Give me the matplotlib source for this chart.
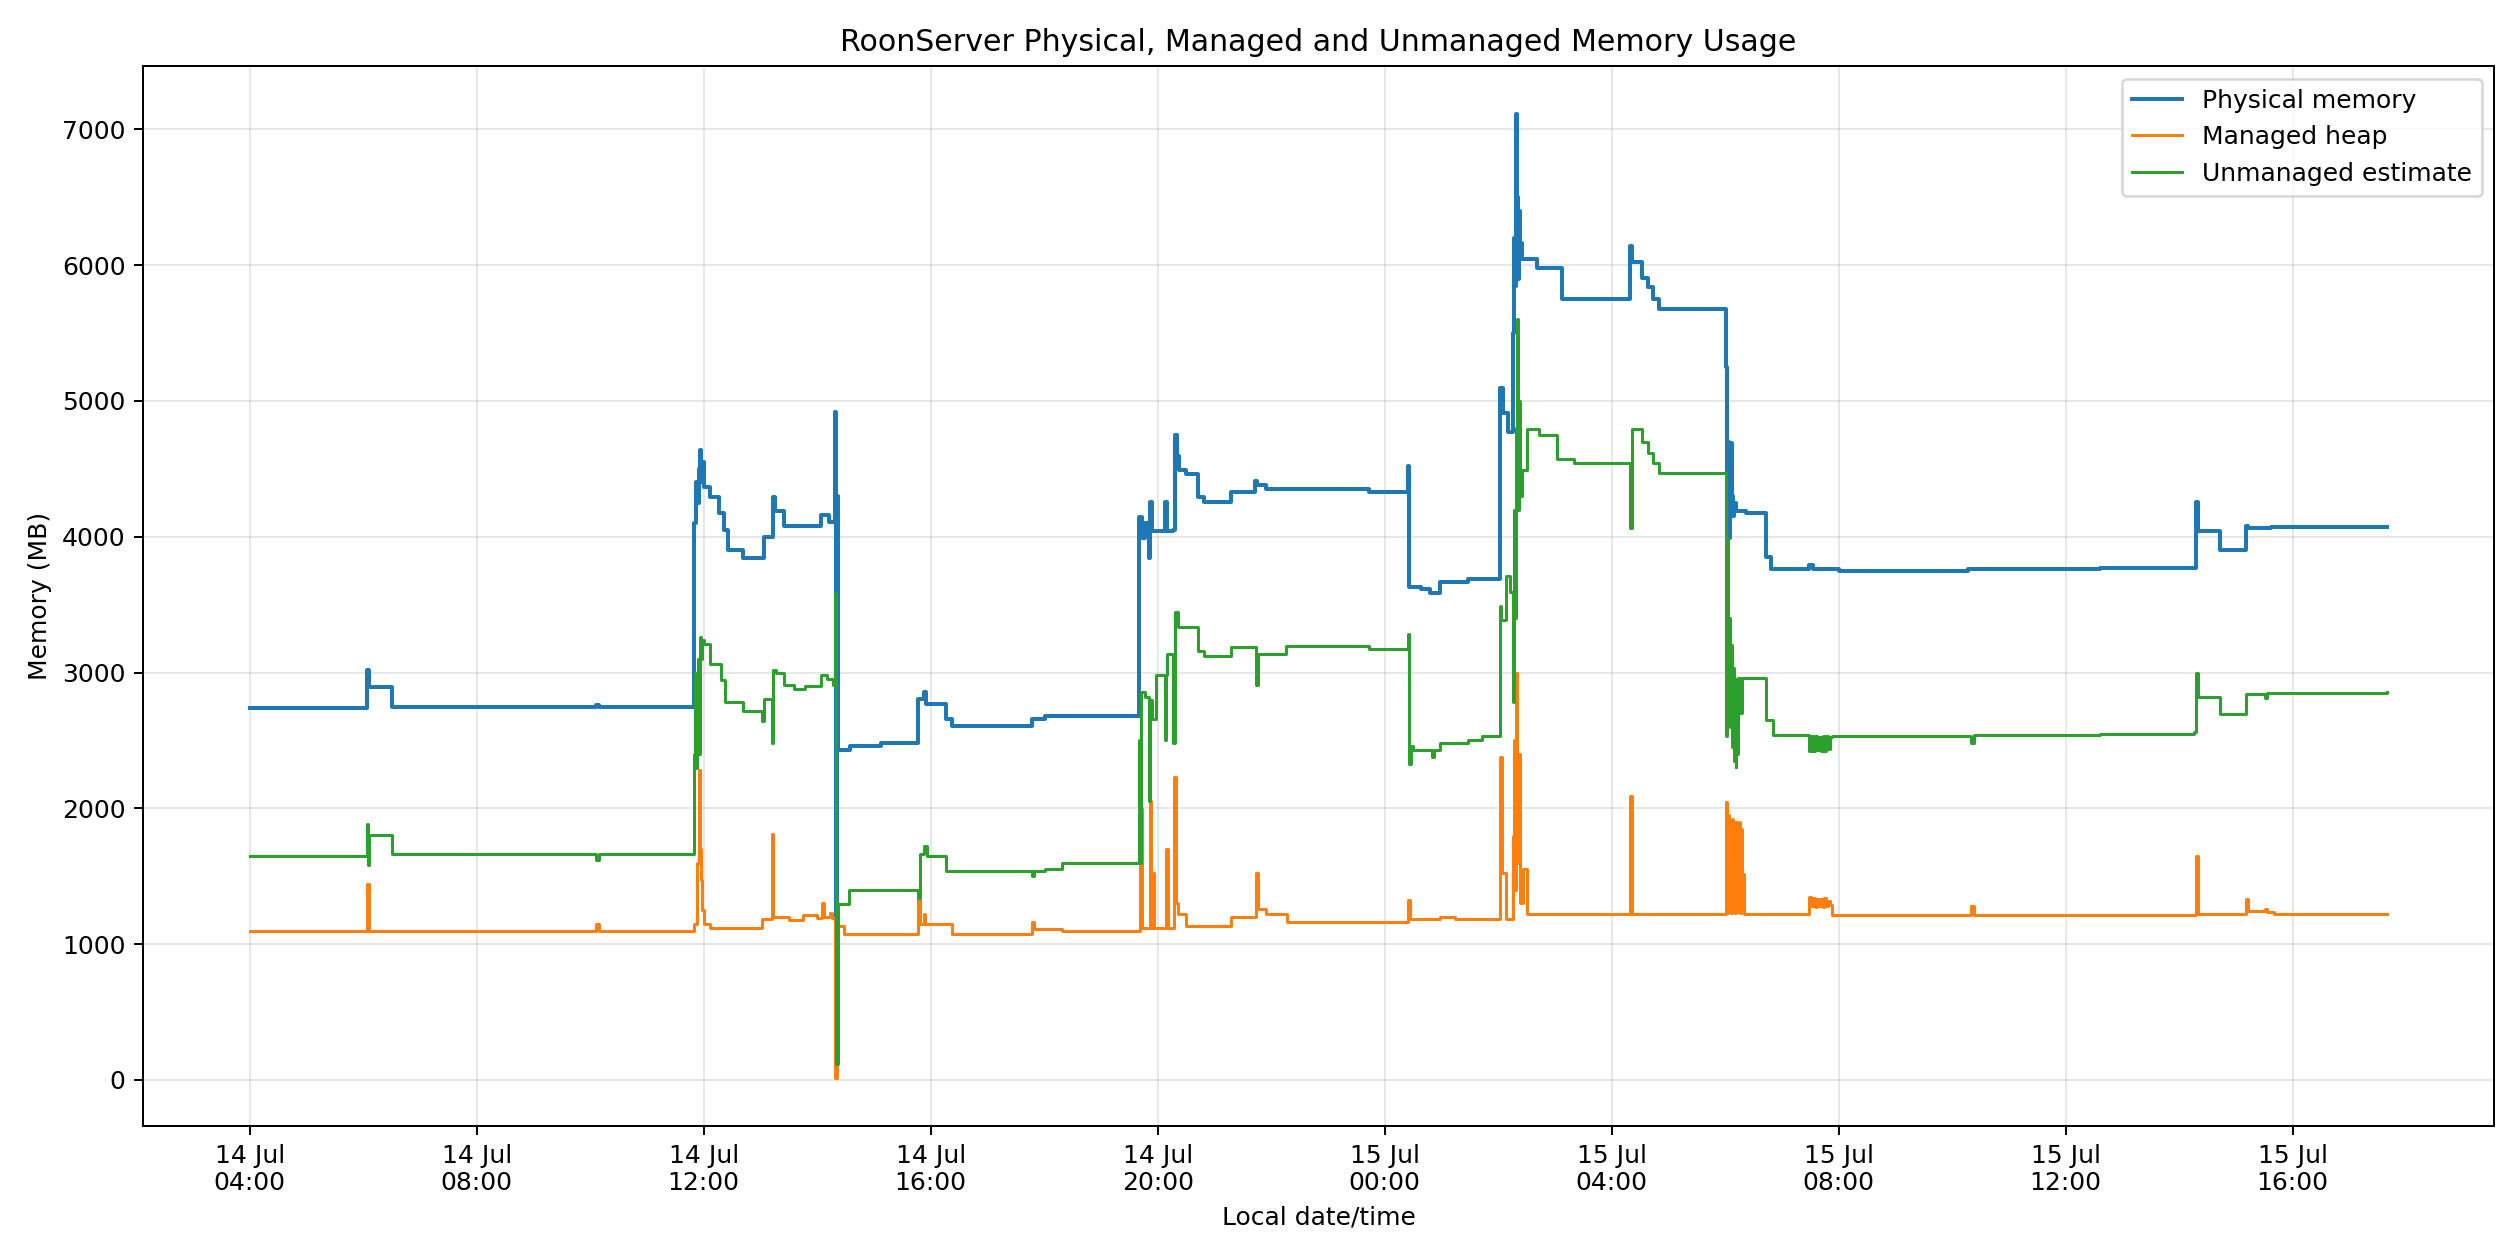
import matplotlib
matplotlib.use("Agg")
import matplotlib.pyplot as plt
import matplotlib.dates as mdates
import pandas as pd

# values; times are "day HH:MM" in July
phys_times = [
    "14 04:00", "14 06:04", "14 06:06", "14 06:30", "14 10:06", "14 10:09",
    "14 11:50", "14 11:52", "14 11:53", "14 11:55", "14 11:56", "14 11:57", "14 11:58",
    "14 12:00", "14 12:07", "14 12:16", "14 12:21", "14 12:26", "14 12:42", "14 13:04",
    "14 13:13", "14 13:15", "14 13:25", "14 14:04", "14 14:12",
    "14 14:19", "14 14:20", "14 14:21", "14 14:22", "14 14:35", "14 15:07",
    "14 15:47", "14 15:53", "14 15:55", "14 16:16", "14 16:23", "14 17:47", "14 18:01",
    "14 19:40", "14 19:43", "14 19:47", "14 19:51", "14 19:52", "14 19:54",
    "14 20:08", "14 20:10", "14 20:16", "14 20:18", "14 20:20", "14 20:23",
    "14 20:30", "14 20:43", "14 20:49", "14 21:18", "14 21:43", "14 21:45",
    "14 21:54", "14 23:43",
    "15 00:25", "15 00:26", "15 00:38", "15 00:48", "15 00:58", "15 01:28",
    "15 02:02", "15 02:05", "15 02:10", "15 02:16", "15 02:17", "15 02:18",
    "15 02:19", "15 02:20", "15 02:21", "15 02:22", "15 02:23", "15 02:24",
    "15 02:25", "15 02:41", "15 03:07", "15 04:19", "15 04:21", "15 04:32",
    "15 04:38", "15 04:44", "15 04:50",
    "15 06:01", "15 06:02", "15 06:03", "15 06:04", "15 06:05", "15 06:07",
    "15 06:08", "15 06:09", "15 06:11", "15 06:22", "15 06:43", "15 06:49",
    "15 07:29", "15 07:33", "15 08:00", "15 10:17", "15 12:36",
    "15 14:18", "15 14:20", "15 14:43", "15 15:11", "15 15:13", "15 15:37",
    "15 17:40",
]
phys_mb = [
    2740, 3020, 2895, 2748, 2760, 2748,
    4100, 4400, 4250, 4500, 4640, 4400, 4550,
    4369, 4293, 4177, 4051, 3900, 3840, 4001,
    4293, 4192, 4077, 4157, 4107,
    4922, 126, 4300, 2431, 2456, 2481,
    2808, 2859, 2768, 2657, 2607, 2657, 2683,
    4142, 3991, 4100, 3840, 4253, 4041,
    4253, 4041, 4051, 4751, 4595, 4494,
    4459, 4293, 4253, 4328, 4409, 4379,
    4353, 4333,
    4520, 3629, 3614, 3589, 3664, 3689,
    5098, 4912, 4771, 5500, 6200, 5850,
    7112, 6500, 5900, 6400, 6100, 6160,
    6045, 5980, 5753, 6145, 6020, 5904,
    5843, 5753, 5677,
    5249, 4300, 4700, 3991, 4690, 4300,
    4150, 4250, 4192, 4177, 3850, 3765,
    3790, 3765, 3750, 3760, 3770,
    4253, 4041, 3906, 4082, 4062, 4072,
    4075,
]

heap_times = [
    "14 04:00", "14 06:04", "14 06:06", "14 10:06", "14 10:09",
    "14 11:50", "14 11:53", "14 11:55", "14 11:56", "14 11:57", "14 11:58",
    "14 12:00", "14 12:07", "14 13:02", "14 13:12", "14 13:13", "14 13:30",
    "14 13:45", "14 14:00", "14 14:05", "14 14:07", "14 14:14", "14 14:16",
    "14 14:19", "14 14:21", "14 14:22", "14 14:28", "14 15:47", "14 15:49",
    "14 15:53", "14 15:54", "14 16:23", "14 17:47", "14 17:49", "14 18:19",
    "14 19:41", "14 19:43", "14 19:52", "14 19:53", "14 19:55", "14 19:56",
    "14 20:09", "14 20:11", "14 20:17", "14 20:19", "14 20:21", "14 20:30",
    "14 21:18", "14 21:44", "14 21:46", "14 21:54", "14 22:17",
    "15 00:25", "15 00:27", "15 00:58", "15 01:14", "15 02:02", "15 02:04",
    "15 02:08", "15 02:16", "15 02:17", "15 02:18", "15 02:19", "15 02:20",
    "15 02:21", "15 02:22", "15 02:23", "15 02:26", "15 02:31",
    "15 04:19", "15 04:21",
    "15 06:01", "15 06:02", "15 06:03", "15 06:04", "15 06:05", "15 06:06",
    "15 06:07", "15 06:08", "15 06:09", "15 06:10", "15 06:11", "15 06:12",
    "15 06:13", "15 06:14", "15 06:15", "15 06:16", "15 06:17", "15 06:18",
    "15 06:19", "15 06:20",
    "15 07:29", "15 07:31", "15 07:33", "15 07:35", "15 07:37", "15 07:39",
    "15 07:41", "15 07:43", "15 07:45", "15 07:47", "15 07:49", "15 07:51",
    "15 07:53", "15 10:20", "15 10:23", "15 14:18", "15 14:20",
    "15 15:11", "15 15:13", "15 15:31", "15 15:33", "15 15:40", "15 17:40",
]
heap_mb = [
    1097, 1445, 1097, 1147, 1097,
    1150, 1600, 2280, 1700, 1475, 1250,
    1147, 1122, 1183, 1812, 1198, 1180,
    1215, 1190, 1300, 1200, 1230, 1190,
    15, 1300, 1132, 1072, 1349, 1147,
    1220, 1147, 1072, 1163, 1112, 1097,
    2003, 1122, 2053, 1122, 1525, 1122,
    1701, 1122, 2230, 1300, 1223, 1132,
    1198, 1525, 1258, 1223, 1163,
    1324, 1183, 1198, 1183, 2381, 1525,
    1183, 1800, 2500, 1400, 3000, 2200,
    1600, 2400, 1300, 1550, 1223,
    2089, 1223,
    2050, 1230, 1950, 1240, 1900, 1230,
    1920, 1240, 1880, 1230, 1900, 1250,
    1890, 1240, 1900, 1230, 1850, 1240,
    1520, 1223,
    1349, 1280, 1340, 1275, 1335, 1280,
    1330, 1275, 1340, 1280, 1320, 1285,
    1213, 1283, 1213, 1651, 1223,
    1334, 1243, 1260, 1240, 1223, 1223,
]

unman_times = [
    "14 04:00", "14 06:04", "14 06:05", "14 06:06", "14 06:30", "14 10:06", "14 10:09",
    "14 11:50", "14 11:51", "14 11:52", "14 11:53", "14 11:54", "14 11:55",
    "14 11:56", "14 11:57", "14 11:58", "14 12:00", "14 12:07", "14 12:18",
    "14 12:22", "14 12:42", "14 13:02", "14 13:04", "14 13:12", "14 13:13",
    "14 13:16", "14 13:25", "14 13:35", "14 13:47", "14 14:04", "14 14:10",
    "14 14:17", "14 14:19", "14 14:20", "14 14:22", "14 14:34", "14 15:47",
    "14 15:49", "14 15:53", "14 15:56", "14 16:16", "14 17:47", "14 17:49",
    "14 18:01", "14 18:19",
    "14 19:40", "14 19:41", "14 19:42", "14 19:47", "14 19:51", "14 19:52",
    "14 19:54", "14 19:58", "14 20:08", "14 20:09", "14 20:10", "14 20:16",
    "14 20:18", "14 20:21", "14 20:43", "14 20:49", "14 21:18", "14 21:44",
    "14 21:46", "14 22:16", "14 23:43",
    "15 00:25", "15 00:26", "15 00:28", "15 00:30", "15 00:50", "15 00:52",
    "15 00:58", "15 01:28", "15 01:43", "15 02:02", "15 02:03", "15 02:08",
    "15 02:12", "15 02:16", "15 02:17", "15 02:18", "15 02:19", "15 02:20",
    "15 02:21", "15 02:22", "15 02:23", "15 02:25", "15 02:31", "15 02:43",
    "15 03:02", "15 03:20", "15 04:19", "15 04:21", "15 04:32", "15 04:38",
    "15 04:44", "15 04:50",
    "15 06:01", "15 06:02", "15 06:03", "15 06:04", "15 06:05", "15 06:06",
    "15 06:07", "15 06:08", "15 06:09", "15 06:10", "15 06:11", "15 06:12",
    "15 06:13", "15 06:14", "15 06:16", "15 06:18", "15 06:22", "15 06:43",
    "15 06:51",
    "15 07:29", "15 07:31", "15 07:33", "15 07:35", "15 07:37", "15 07:39",
    "15 07:41", "15 07:43", "15 07:45", "15 07:47", "15 07:49", "15 07:51",
    "15 07:53", "15 10:20", "15 10:23", "15 12:36", "15 14:16", "15 14:18",
    "15 14:20", "15 14:43", "15 15:11", "15 15:31", "15 15:33", "15 17:40",
]
unman_mb = [
    1651, 1887, 1585, 1802, 1661, 1620, 1661,
    2400, 3000, 2300, 2700, 3100, 2400,
    3261, 3100, 3240, 3211, 3060, 2944,
    2783, 2718, 2642, 2808, 2481, 3020,
    3000, 2909, 2880, 2900, 2985, 2950,
    2909, 3589, 116, 1298, 1399, 1340,
    1661, 1726, 1651, 1535, 1500, 1535,
    1550, 1600,
    2500, 1600, 2859, 2818, 2053, 2800,
    2657, 2985, 2506, 2985, 3136, 2480,
    3448, 3337, 3161, 3121, 3186, 2909,
    3136, 3196, 3176,
    3287, 2330, 2456, 2431, 2380, 2431,
    2481, 2506, 2532, 3488, 3388, 3714,
    3590, 2783, 4200, 3400, 4800, 5602,
    4200, 5000, 4300, 4494, 4796, 4746,
    4570, 4545, 4067, 4796, 4700, 4620,
    4545, 4469,
    2532, 3991, 2800, 3400, 2600, 3200,
    2450, 3030, 2350, 2900, 2305, 2950,
    2400, 2959, 2700, 2959, 2959, 2647,
    2542,
    2421, 2530, 2425, 2532, 2430, 2528,
    2420, 2530, 2425, 2532, 2440, 2525,
    2532, 2480, 2542, 2550, 2560, 2995,
    2818, 2693, 2844, 2810, 2849, 2855,
]


def to_dt(stamps):
    return pd.to_datetime(["2025-07-" + s for s in stamps], format="%Y-%m-%d %H:%M")


fig, ax = plt.subplots(figsize=(14, 7), dpi=180)

ax.plot(to_dt(phys_times), phys_mb, drawstyle="steps-post", lw=1.6,
        color="#1f77b4", label="Physical memory")
ax.plot(to_dt(heap_times), heap_mb, drawstyle="steps-post", lw=1.2,
        color="#ff7f0e", label="Managed heap")
ax.plot(to_dt(unman_times), unman_mb, drawstyle="steps-post", lw=1.2,
        color="#2ca02c", label="Unmanaged estimate")

ax.set_title("RoonServer Physical, Managed and Unmanaged Memory Usage")
ax.set_xlabel("Local date/time")
ax.set_ylabel("Memory (MB)")
ax.grid(True, alpha=0.3)
ax.legend(loc="upper right")

ax.xaxis.set_major_locator(mdates.HourLocator(byhour=range(0, 24, 4)))
ax.xaxis.set_major_formatter(mdates.DateFormatter("%d %b\n%H:%M"))
for lbl in ax.get_xticklabels():
    lbl.set_ha("center")

fig.subplots_adjust(left=0.0567, right=0.9897, top=0.9476, bottom=0.1063)
fig.savefig("out.png", dpi=180)
